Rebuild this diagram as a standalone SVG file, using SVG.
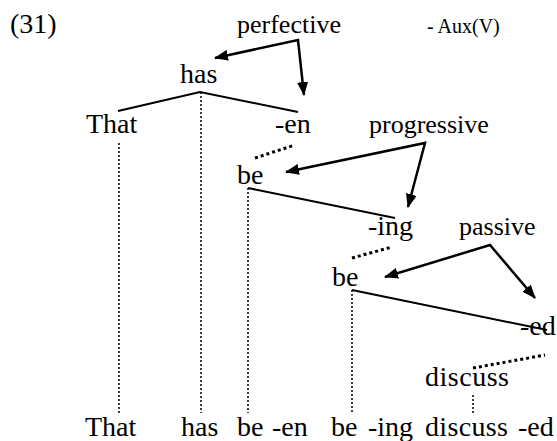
<svg xmlns="http://www.w3.org/2000/svg" width="557" height="441" viewBox="0 0 557 441">
<style>
text{font-family:'Liberation Serif','Times New Roman',serif;font-size:28px;fill:#000}
.lbl{font-size:26px}
.small{font-size:20px}
.tree{stroke:#000;stroke-width:2;fill:none}
.vdot{stroke:#000;stroke-width:1.5;stroke-dasharray:2,2;fill:none}
.ldot{stroke:#000;stroke-width:3;stroke-dasharray:3,3;fill:none}
.arr{stroke:#000;stroke-width:2.5;fill:none;marker-start:url(#ah);marker-end:url(#ah)}
</style>
<defs>
<marker id="ah" markerUnits="userSpaceOnUse" markerWidth="14" markerHeight="11" refX="13" refY="5.5" orient="auto-start-reverse">
<path d="M0,0 L14,5.5 L0,11 z" fill="#000"/>
</marker>
</defs>
<rect width="557" height="441" fill="#fff"/>
<g font-family="'Liberation Serif', 'Times New Roman', serif">
<g id="label31"><text x="10" y="33">(31)</text></g>
<g id="auxv"><text class="small" x="427" y="33">- Aux(V)</text></g>
<g id="perfective"><text class="lbl" x="237" y="33">perfective</text></g>
<g id="progressive"><text class="lbl" x="369" y="133">progressive</text></g>
<g id="passive"><text class="lbl" x="459" y="235">passive</text></g>
<g id="has"><text x="180" y="83">has</text></g>
<g id="that"><text x="86" y="133">That</text></g>
<g id="en"><text x="275" y="133">-en</text></g>
<g id="be1"><text x="237" y="184">be</text></g>
<g id="ing"><text x="368" y="235">-ing</text></g>
<g id="be2"><text x="332" y="286">be</text></g>
<g id="ed"><text x="520" y="335">-ed</text></g>
<g id="discuss"><text x="425" y="386" textLength="84">discuss</text></g>
<g id="bottom">
<text x="85" y="436">That</text>
<text x="181" y="436">has</text>
<text x="237" y="436">be</text>
<text x="272" y="436">-en</text>
<text x="331" y="436">be</text>
<text x="368" y="436">-ing</text>
<text x="425" y="436" textLength="83">discuss</text>
<text x="518" y="436">-ed</text>
</g>
</g>
<g id="connectors">
<polyline class="tree" points="118,111 200,92 298,112"/>
<line class="tree" x1="248" y1="188" x2="395" y2="218"/>
<line class="tree" x1="352" y1="290" x2="547" y2="330"/>
<line class="vdot" x1="119" y1="143" x2="119" y2="413"/>
<line class="vdot" x1="201" y1="92" x2="201" y2="413"/>
<line class="vdot" x1="248" y1="188" x2="248" y2="413"/>
<line class="vdot" x1="352" y1="290" x2="352" y2="413"/>
<line class="vdot" x1="473" y1="395" x2="473" y2="413"/>
<line class="ldot" x1="255" y1="158" x2="295" y2="145"/>
<line class="ldot" x1="352" y1="258" x2="392" y2="247"/>
<line class="ldot" x1="473" y1="368" x2="545" y2="355"/>
<polyline class="arr" points="215,58 298,40 304,95"/>
<polyline class="arr" points="286,172 425,143 408,207"/>
<polyline class="arr" points="385,277 490,245 535,298"/>
</g>
</svg>
